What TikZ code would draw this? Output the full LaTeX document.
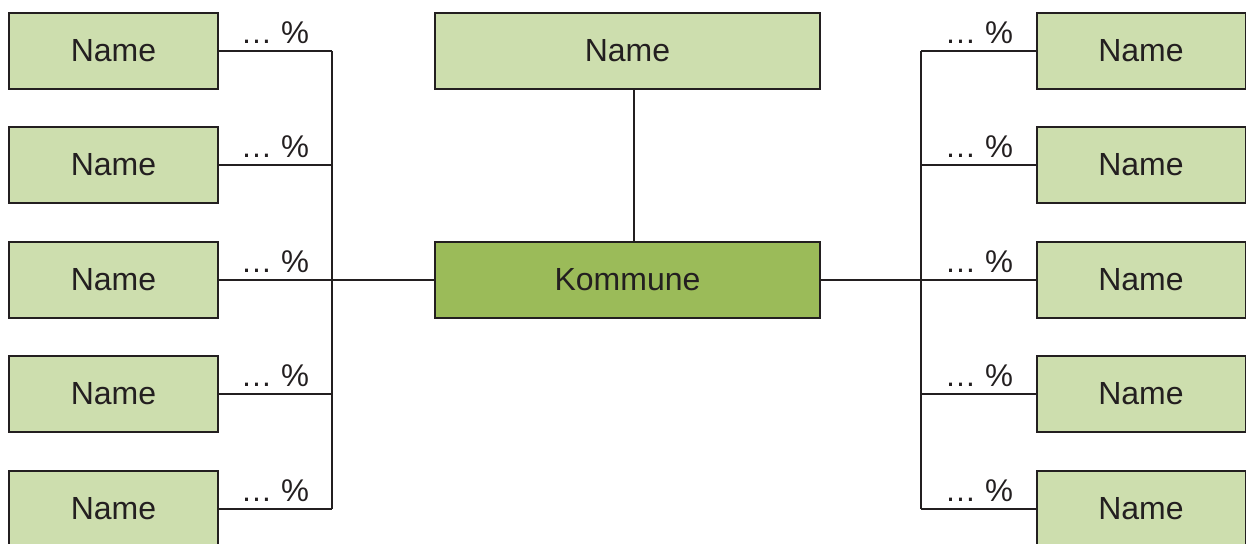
\documentclass[tikz,border=0pt]{standalone}
\usepackage{fontspec}
\setmainfont{Liberation Sans}
\definecolor{lightg}{RGB}{205,222,174}
\definecolor{darkg}{RGB}{155,187,89}
\definecolor{ink}{RGB}{35,31,32}
\begin{document}
\begin{tikzpicture}[x=0.5pt,y=-0.5pt,
  box/.style={draw=ink,line width=1pt,fill=lightg,minimum width=104.5pt,minimum height=38pt,inner sep=0pt,outer sep=0pt,font=\fontsize{16}{19}\selectfont,text=ink},
  wide/.style={box,minimum width=192.5pt},
  conn/.style={draw=ink,line width=1pt},
  pct/.style={font=\fontsize{15.7}{19}\selectfont,text=ink,inner sep=0pt}]
\useasboundingbox (0,0) rectangle (1246,543);
\node[wide] (top) at (627.5,51) {Name};
\node[wide,fill=darkg] (k) at (627.5,280) {Kommune};
\foreach \i/\y in {1/51,2/165,3/280,4/394,5/509}{
  \node[box] (L\i) at (113.5,\y) {Name};
  \node[box] (R\i) at (1141,\y) {Name};
  \coordinate (lv\i) at (332,\y);
  \coordinate (rv\i) at (921,\y);
  \draw[conn] (L\i.east) -- (lv\i);
  \draw[conn] (R\i.west) -- (rv\i);
  \node[pct] (pl\i) at (275,\y-18) {… \%};
  \node[pct] (pr\i) at (979,\y-18) {… \%};
}
\draw[conn] (lv1) -- (lv5);
\draw[conn] (rv1) -- (rv5);
\draw[conn] (k.west) -- (lv3);
\draw[conn] (k.east) -- (rv3);
\coordinate (tb) at (634,89);
\coordinate (kt) at (634,242);
\draw[conn] (tb) -- (kt);
\end{tikzpicture}
\end{document}
